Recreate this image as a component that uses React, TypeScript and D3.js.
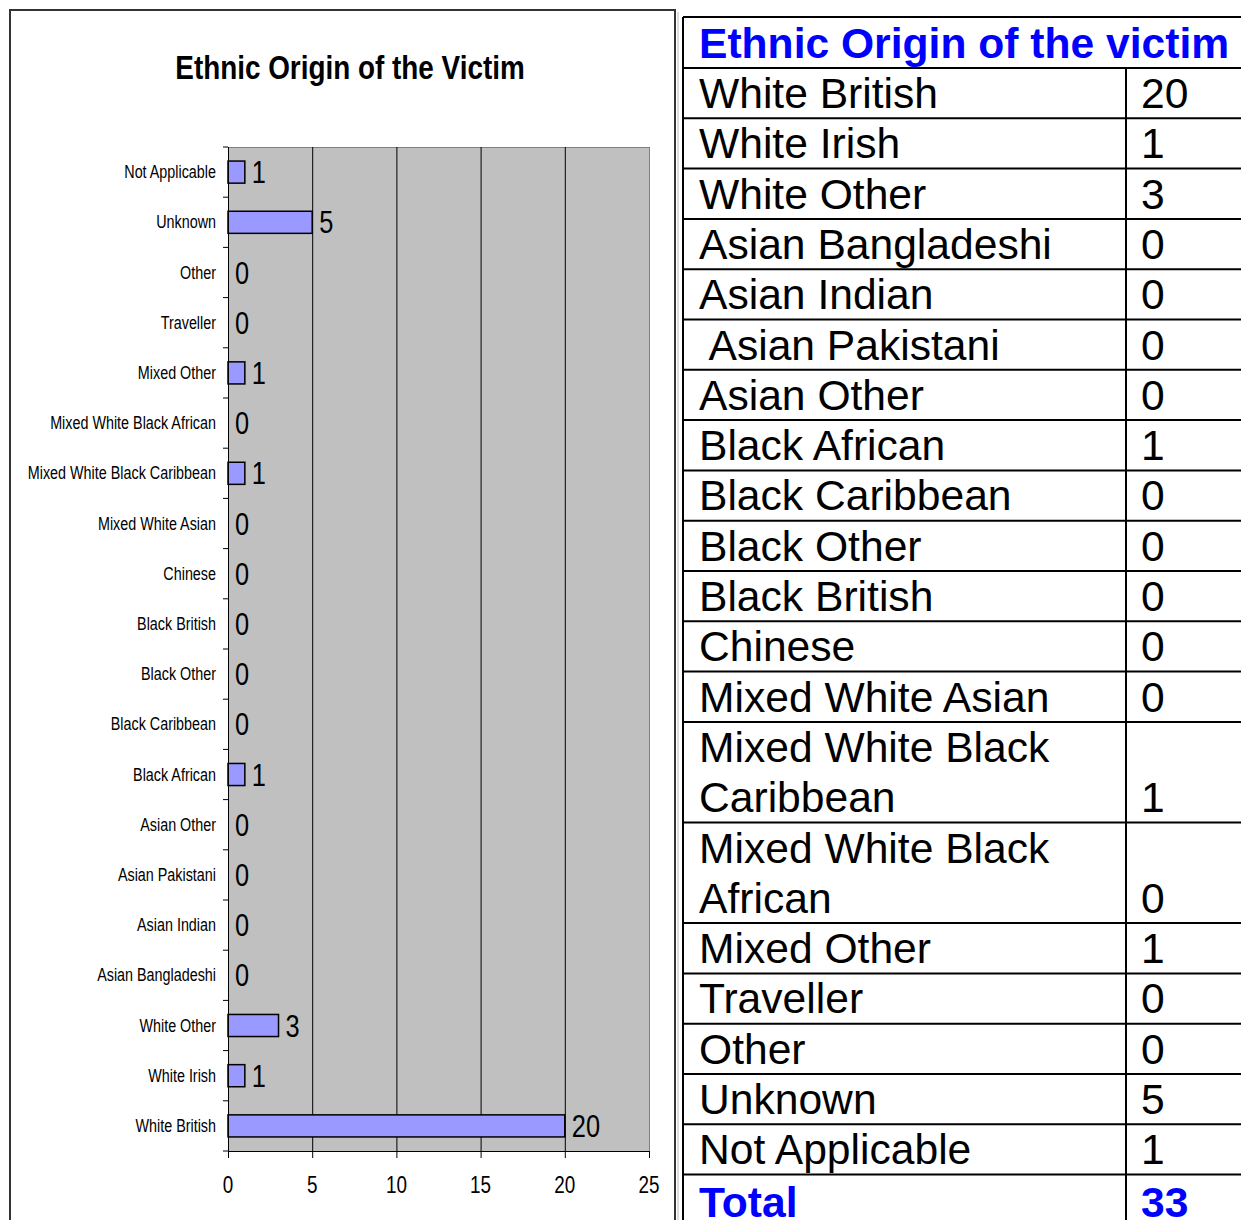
import React from 'react';
import * as d3 from 'd3';

// chart categories, bottom to top as in the workbook
const categories = [
  'White British', 'White Irish', 'White Other', 'Asian Bangladeshi', 'Asian Indian',
  'Asian Pakistani', 'Asian Other', 'Black African', 'Black Caribbean', 'Black Other',
  'Black British', 'Chinese', 'Mixed White Asian', 'Mixed White Black Caribbean',
  'Mixed White Black African', 'Mixed Other', 'Traveller', 'Other', 'Unknown', 'Not Applicable'
];
const counts = [20, 1, 3, 0, 0, 0, 0, 1, 0, 0, 0, 0, 0, 1, 0, 1, 0, 0, 5, 1];

// table rows (same order, with the sheet's own wrapping)
const tableLabels = [
  ['White British'], ['White Irish'], ['White Other'], ['Asian Bangladeshi'], ['Asian Indian'],
  [' Asian Pakistani'], ['Asian Other'], ['Black African'], ['Black Caribbean'], ['Black Other'],
  ['Black British'], ['Chinese'], ['Mixed White Asian'], ['Mixed White Black', 'Caribbean'],
  ['Mixed White Black', 'African'], ['Mixed Other'], ['Traveller'], ['Other'], ['Unknown'], ['Not Applicable']
];
const xTicks = [0, 5, 10, 15, 20, 25];

const chartTitle = 'Ethnic Origin of the Victim';
const tableTitle = 'Ethnic Origin of the victim';

const sans = "'Liberation Sans', Arial, sans-serif";

// no narrow face installed, so squeeze Liberation Sans horizontally
const Narrow = ({ x, y, size, anchor = 'start', bold = false, children }: any) => (
  <text transform={`translate(${x},${y}) scale(0.82,1)`} textAnchor={anchor}
    fontFamily={sans} fontSize={size} fontWeight={bold ? 'bold' : 'normal'} fill="#000">{children}</text>
);

const App = () => {
  const width = 1241;
  const height = 1220;
  const plot = { left: 228, right: 649, top: 147, bottom: 1151 };

  const x = d3.scaleLinear().domain([0, 25]).range([plot.left, plot.right]);
  const y = d3.scaleBand<string>()
    .domain([...categories].reverse())
    .range([plot.top, plot.bottom])
    .paddingInner(0.56)
    .paddingOuter(0.28);
  const step = y.step();
  const bandEdges = d3.range(categories.length + 1).map(i => plot.top + i * step);

  // table geometry
  const tbl = { left: 683, mid: 1126, right: 1250, top: 17, head: 68 };
  const lineH = 50.3;
  const rows = tableLabels.map((lines, i) => ({ lines, value: counts[i] }));
  let acc = tbl.head;
  const rowTops = rows.map(r => { const t = acc; acc += r.lines.length * lineH; return t; });
  const totalTop = acc;
  const total = d3.sum(counts);

  return (
    <svg width={width} height={height} style={{ position: 'absolute', left: 0, top: 0, background: '#fff' }}>
      {/* chart frame */}
      <rect x={10} y={10} width={665} height={1230} fill="#fff" stroke="#333" strokeWidth={2} />
      <line x1={678} x2={678} y1={12} y2={1220} stroke="#bbb" strokeWidth={1} />
      <Narrow x={350} y={79} size={34} anchor="middle" bold>{chartTitle}</Narrow>

      {/* plot area */}
      <rect x={plot.left} y={plot.top} width={plot.right - plot.left} height={plot.bottom - plot.top} fill="#C0C0C0" />
      <line x1={plot.left} x2={plot.right} y1={plot.top + 0.5} y2={plot.top + 0.5} stroke="#808080" />
      <line x1={plot.right + 0.5} x2={plot.right + 0.5} y1={plot.top} y2={plot.bottom} stroke="#808080" />
      {xTicks.slice(1, -1).map(t => (
        <line key={t} x1={x(t) + 0.5} x2={x(t) + 0.5} y1={plot.top} y2={plot.bottom} stroke="#000" strokeWidth={1} />
      ))}

      {/* bars */}
      {categories.map((c, i) => counts[i] > 0 && (
        <rect key={c} x={x(0)} y={y(c)} width={x(counts[i]) - x(0)} height={y.bandwidth()}
          fill="#9999FF" stroke="#000" strokeWidth={1.5} />
      ))}
      {categories.map((c, i) => (
        <Narrow key={c} x={x(counts[i]) + 7} y={(y(c) ?? 0) + y.bandwidth() / 2 + 11} size={31}>{counts[i]}</Narrow>
      ))}

      {/* axes */}
      <line x1={plot.left + 0.5} x2={plot.left + 0.5} y1={plot.top} y2={plot.bottom} stroke="#000" />
      {bandEdges.map((e, i) => (
        <line key={i} x1={plot.left - 5} x2={plot.left} y1={e} y2={e} stroke="#000" />
      ))}
      {categories.map(c => (
        <Narrow key={c} x={216} y={(y(c) ?? 0) + y.bandwidth() / 2 + 6} size={17.5} anchor="end">{c}</Narrow>
      ))}
      <line x1={plot.left} x2={plot.right + 1} y1={plot.bottom + 0.5} y2={plot.bottom + 0.5} stroke="#000" />
      {xTicks.map(t => (
        <g key={t}>
          <line x1={x(t) + 0.5} x2={x(t) + 0.5} y1={plot.bottom} y2={plot.bottom + 7} stroke="#000" />
          <Narrow x={x(t)} y={1193} size={23} anchor="middle">{t}</Narrow>
        </g>
      ))}

      {/* table */}
      <g fontFamily={sans} fontSize={42.6}>
        <text x={699} y={tbl.top + 41} fill="#0000FF" fontWeight="bold">{tableTitle}</text>
        {rows.map((r, i) => (
          <g key={i}>
            {r.lines.map((l, j) => (
              <text key={j} x={699} y={rowTops[i] + 40 + j * lineH} style={{ whiteSpace: 'pre' }}>{l}</text>
            ))}
            <text x={1141} y={rowTops[i] + 40 + (r.lines.length - 1) * lineH}>{r.value}</text>
          </g>
        ))}
        <text x={699} y={totalTop + 42} fill="#0000FF" fontWeight="bold">Total</text>
        <text x={1141} y={totalTop + 42} fill="#0000FF" fontWeight="bold">{total}</text>
        {[tbl.head, ...rowTops.slice(1), totalTop].map((t, i) => (
          <line key={i} x1={tbl.left} x2={tbl.right} y1={t} y2={t} stroke="#000" strokeWidth={2} />
        ))}
        <line x1={tbl.left} x2={tbl.right} y1={tbl.top} y2={tbl.top} stroke="#000" strokeWidth={2} />
        <line x1={tbl.left} x2={tbl.left} y1={tbl.top} y2={height} stroke="#000" strokeWidth={2} />
        <line x1={tbl.mid} x2={tbl.mid} y1={tbl.head} y2={height} stroke="#000" strokeWidth={2} />
      </g>
    </svg>
  );
};

export default App;
